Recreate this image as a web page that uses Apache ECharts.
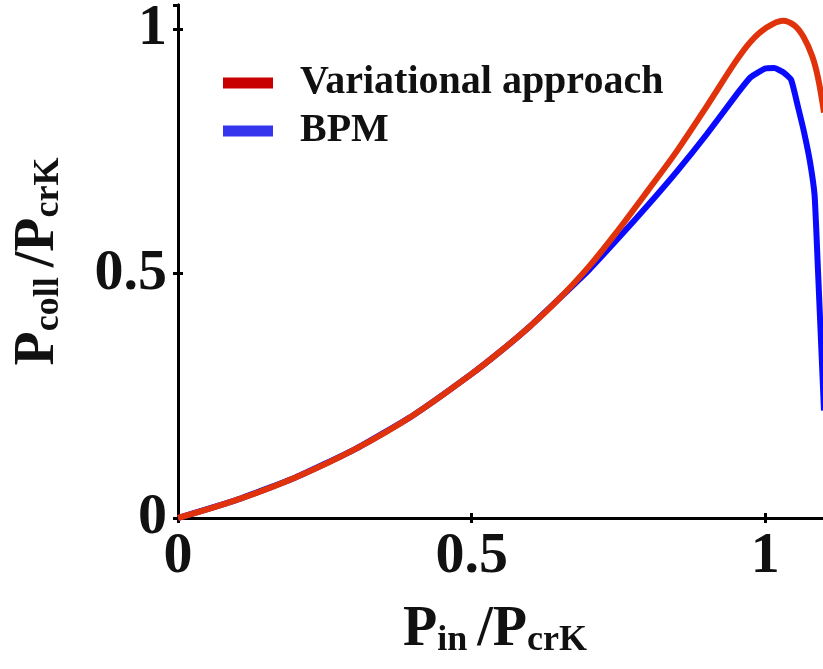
<!DOCTYPE html>
<html><head><meta charset="utf-8">
<script src="https://cdn.jsdelivr.net/npm/echarts@6/dist/echarts.min.js"></script>
<style>html,body{margin:0;padding:0;background:#fff}#c{width:823px;height:669px}</style>
</head><body><div id="c"></div>
<script>
const commonX = [0, 0.1, 0.2, 0.3, 0.4, 0.5, 0.55, 0.6, 0.65];
const commonY = [0, 0.037, 0.083, 0.14, 0.21, 0.295, 0.342, 0.393, 0.45];
const varX = [0.7, 0.75, 0.8, 0.85, 0.9, 0.95, 0.975, 1.0, 1.03, 1.05, 1.065, 1.08, 1.09, 1.1];
const varY = [0.515, 0.59, 0.67, 0.752, 0.842, 0.935, 0.975, 1.002, 1.018, 1.008, 0.985, 0.945, 0.9, 0.83];
const bpmX = [0.7, 0.75, 0.8, 0.85, 0.9, 0.95, 0.975, 1.0, 1.015, 1.03, 1.044, 1.056, 1.066, 1.076, 1.084, 1.09, 1.1];
const bpmY = [0.508, 0.573, 0.64, 0.71, 0.785, 0.865, 0.902, 0.92, 0.921, 0.913, 0.897, 0.84, 0.79, 0.73, 0.66, 0.5, 0.22];
const xTicks = [0, 0.5, 1];
const yTicks = [0, 0.5, 1];
const legendNames = ['Variational approach', 'BPM'];

const zip = (xs, ys) => xs.map((x, i) => [x, ys[i]]);
const varData = zip(commonX, commonY).concat(zip(varX, varY));
const bpmData = zip(commonX, commonY).concat(zip(bpmX, bpmY));

const serif = '"Liberation Serif", "Times New Roman", serif';
const lbl = v => (xTicks.includes(v) || yTicks.includes(v)) ? String(v) : '';
const axisLine = {show: true, lineStyle: {color: '#000', width: 3}};
const axisTick = {show: true, inside: true, length: 5, lineStyle: {color: '#000', width: 3}};
const nameRich = {
  P: {fontFamily: serif, fontWeight: 'bold', fontSize: 56, color: '#111', lineHeight: 56, verticalAlign: 'top'},
  Q: {fontFamily: serif, fontWeight: 'bold', fontSize: 56, color: '#111', lineHeight: 56, verticalAlign: 'top', padding: [0, 0, 0, 10]},
  s: {fontFamily: serif, fontWeight: 'bold', fontSize: 36, color: '#111', lineHeight: 36, verticalAlign: 'bottom', padding: [34, 0, 0, 0]}
};

const chart = echarts.init(document.getElementById('c'), null, {renderer: 'canvas'});
chart.setOption({
  animation: false,
  backgroundColor: '#fff',
  grid: {left: 178, top: 5, width: 646, height: 513, containLabel: false, outerBoundsMode: 'none'},
  title: [{
    text: '{P|P}{s|in}{Q|/P}{s|crK}',
    left: 398, top: 598,
    textStyle: {rich: nameRich}
  }],
  legend: {
    orient: 'vertical', left: 218, top: 58,
    itemWidth: 50, itemHeight: 11, itemGap: 8,
    icon: 'rect',
    data: [
      {name: legendNames[0], itemStyle: {color: '#c80000'}},
      {name: legendNames[1], itemStyle: {color: '#3535ee'}}
    ],
    textStyle: {fontFamily: serif, fontWeight: 'bold', fontSize: 40, color: '#111', padding: [0, 0, 0, 22], lineHeight: 40}
  },
  xAxis: [{
    type: 'value', min: 0, max: 1.1, interval: 0.5,
    axisLine, axisTick, splitLine: {show: false},
    axisLabel: {formatter: lbl, margin: 10, fontFamily: serif, fontWeight: 'bold', fontSize: 58, color: '#111', showMaxLabel: false}
  }, {
    type: 'value', min: 0, max: 1.1, interval: 0.5, position: 'top',
    axisLine, axisTick, splitLine: {show: false}, axisLabel: {show: false}
  }],
  yAxis: [{
    type: 'value', min: 0, max: 1.05, interval: 0.5,
    axisLine, axisTick, splitLine: {show: false},
    axisLabel: {formatter: lbl, margin: 11, fontFamily: serif, fontWeight: 'bold', fontSize: 58, color: '#111', showMaxLabel: false},
    name: '{P|P}{s|coll}{Q|/P}{s|crK}',
    nameLocation: 'middle', nameGap: 111, nameRotate: 90,
    nameTextStyle: {rich: nameRich}
  }, {
    type: 'value', min: 0, max: 1.05, interval: 0.5, position: 'right',
    axisLine, axisTick, splitLine: {show: false}, axisLabel: {show: false}
  }],
  series: [{
    name: legendNames[1], type: 'line', data: bpmData, showSymbol: false, smooth: 0.15,
    lineStyle: {color: '#0a0aff', width: 6}, itemStyle: {color: '#3535ee'}, z: 2
  }, {
    name: legendNames[0], type: 'line', data: varData, showSymbol: false, smooth: 0.35,
    lineStyle: {color: '#e0330c', width: 6}, itemStyle: {color: '#c80000'}, z: 3
  }]
});
</script></body></html>
